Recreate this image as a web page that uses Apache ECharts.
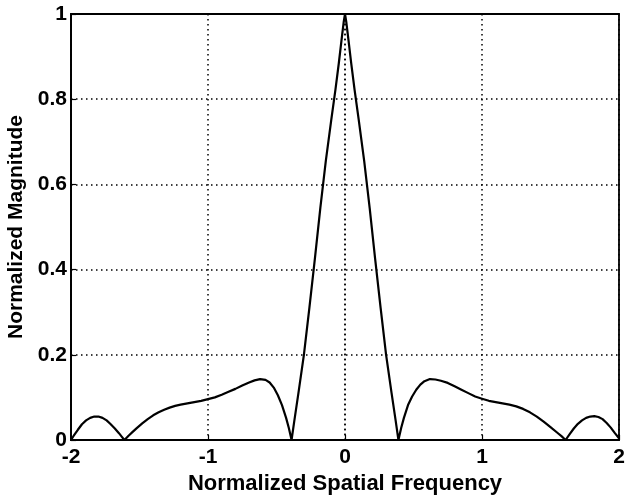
<!DOCTYPE html>
<html>
<head>
<meta charset="utf-8">
<script src="https://cdn.jsdelivr.net/npm/echarts@6/dist/echarts.min.js"></script>
<style>
html,body{margin:0;padding:0;background:#fff;}
#chart{width:625px;height:498px;}
</style>
</head>
<body>
<div id="chart"></div>
<script>
// Normalized spatial frequency (x) and normalized magnitude (y)
var freq = [
  -2.00, -1.98, -1.95, -1.92, -1.89, -1.86, -1.83, -1.80, -1.77, -1.74,
  -1.71, -1.68, -1.65, -1.63, -1.61,
  -1.58, -1.55, -1.52, -1.48, -1.44, -1.40, -1.36, -1.32, -1.28, -1.24,
  -1.20, -1.15, -1.10, -1.05, -1.00, -0.95, -0.90, -0.85, -0.80, -0.75,
  -0.70, -0.66, -0.62, -0.58, -0.55, -0.52, -0.49, -0.46, -0.43, -0.41,
  -0.39,
  -0.37, -0.34, -0.30, -0.26, -0.22, -0.18, -0.14, -0.10, -0.07, -0.045,
  -0.025, -0.01, 0.00, 0.01, 0.025, 0.045, 0.07, 0.10, 0.14, 0.18,
  0.22, 0.26, 0.30, 0.34, 0.37,
  0.39, 0.41, 0.43, 0.46, 0.49, 0.52, 0.55, 0.58, 0.62, 0.66,
  0.70, 0.75, 0.80, 0.85, 0.90, 0.95, 1.00, 1.05, 1.10, 1.15,
  1.20, 1.25, 1.30, 1.35, 1.40, 1.45, 1.50, 1.55, 1.58, 1.61,
  1.64, 1.67, 1.70, 1.73, 1.76, 1.79, 1.82, 1.85, 1.88, 1.91,
  1.94, 1.97, 2.00
];
var magnitude = [
  0.000, 0.010, 0.024, 0.037, 0.046, 0.052, 0.055, 0.055, 0.052, 0.046,
  0.037, 0.027, 0.016, 0.008, 0.000,
  0.010, 0.019, 0.028, 0.039, 0.049, 0.058, 0.065, 0.071, 0.076, 0.080,
  0.083, 0.086, 0.089, 0.092, 0.096, 0.100, 0.106, 0.113, 0.120, 0.128,
  0.135, 0.140, 0.143, 0.141, 0.135, 0.123, 0.105, 0.082, 0.052, 0.028,
  0.000,
  0.045, 0.110, 0.200, 0.310, 0.425, 0.545, 0.655, 0.752, 0.822, 0.885,
  0.940, 0.980, 1.000, 0.980, 0.940, 0.885, 0.822, 0.752, 0.655, 0.545,
  0.425, 0.310, 0.200, 0.110, 0.045,
  0.000, 0.028, 0.052, 0.082, 0.102, 0.118, 0.130, 0.138, 0.143, 0.142,
  0.139, 0.134, 0.126, 0.118, 0.110, 0.102, 0.097, 0.092, 0.089, 0.086,
  0.083, 0.079, 0.073, 0.065, 0.055, 0.043, 0.030, 0.017, 0.009, 0.000,
  0.014, 0.027, 0.038, 0.046, 0.052, 0.055, 0.056, 0.054, 0.049, 0.040,
  0.029, 0.016, 0.004
];
var xTicks = [-2, -1, 0, 1, 2];
var yTicks = [0, 0.2, 0.4, 0.6, 0.8, 1];

var points = freq.map(function (f, i) { return [f, magnitude[i]]; });
var FONT = '"Liberation Sans", Arial, Helvetica, sans-serif';
var GRID_STYLE = {color: '#000', type: [1.5, 3.5], width: 1.5};

var chart = echarts.init(document.getElementById('chart'), null, {renderer: 'canvas'});
chart.setOption({
  animation: false,
  backgroundColor: '#ffffff',
  grid: {
    left: 71, right: 6, top: 14, bottom: 58,
    outerBoundsMode: 'none',
    containLabel: false,
    show: true, borderColor: '#000', borderWidth: 1.8, backgroundColor: 'transparent'
  },
  xAxis: {
    type: 'value',
    min: xTicks[0], max: xTicks[xTicks.length - 1], interval: 1,
    name: 'Normalized Spatial Frequency',
    nameLocation: 'middle', nameGap: 33,
    nameTextStyle: {color: '#000', fontSize: 22, fontWeight: 'bold', fontFamily: FONT},
    axisLine: {show: true, onZero: false, lineStyle: {color: '#000', width: 1.8}},
    axisTick: {show: true, inside: true, length: 5, lineStyle: {color: '#000', width: 1.2}},
    axisLabel: {color: '#000', fontSize: 21, fontWeight: 'bold', fontFamily: FONT, margin: 7},
    splitLine: {show: true, lineStyle: GRID_STYLE}
  },
  yAxis: {
    type: 'value',
    min: yTicks[0], max: yTicks[yTicks.length - 1], interval: 0.2,
    name: 'Normalized Magnitude',
    nameLocation: 'middle', nameGap: 39,
    nameTextStyle: {color: '#000', fontSize: 21, fontWeight: 'bold', fontFamily: FONT},
    axisLine: {show: true, onZero: false, lineStyle: {color: '#000', width: 1.8}},
    axisTick: {show: true, inside: true, length: 5, lineStyle: {color: '#000', width: 1.2}},
    axisLabel: {color: '#000', fontSize: 21, fontWeight: 'bold', fontFamily: FONT, margin: 4},
    splitLine: {show: true, lineStyle: GRID_STYLE}
  },
  series: [{
    type: 'line',
    data: points,
    showSymbol: false,
    smooth: false,
    lineStyle: {color: '#000', width: 2.2, join: 'round'},
    markLine: {
      silent: true,
      symbol: ['none', 'none'],
      label: {show: false},
      lineStyle: GRID_STYLE,
      data: [{xAxis: 0}]
    }
  }]
});
</script>
</body>
</html>
